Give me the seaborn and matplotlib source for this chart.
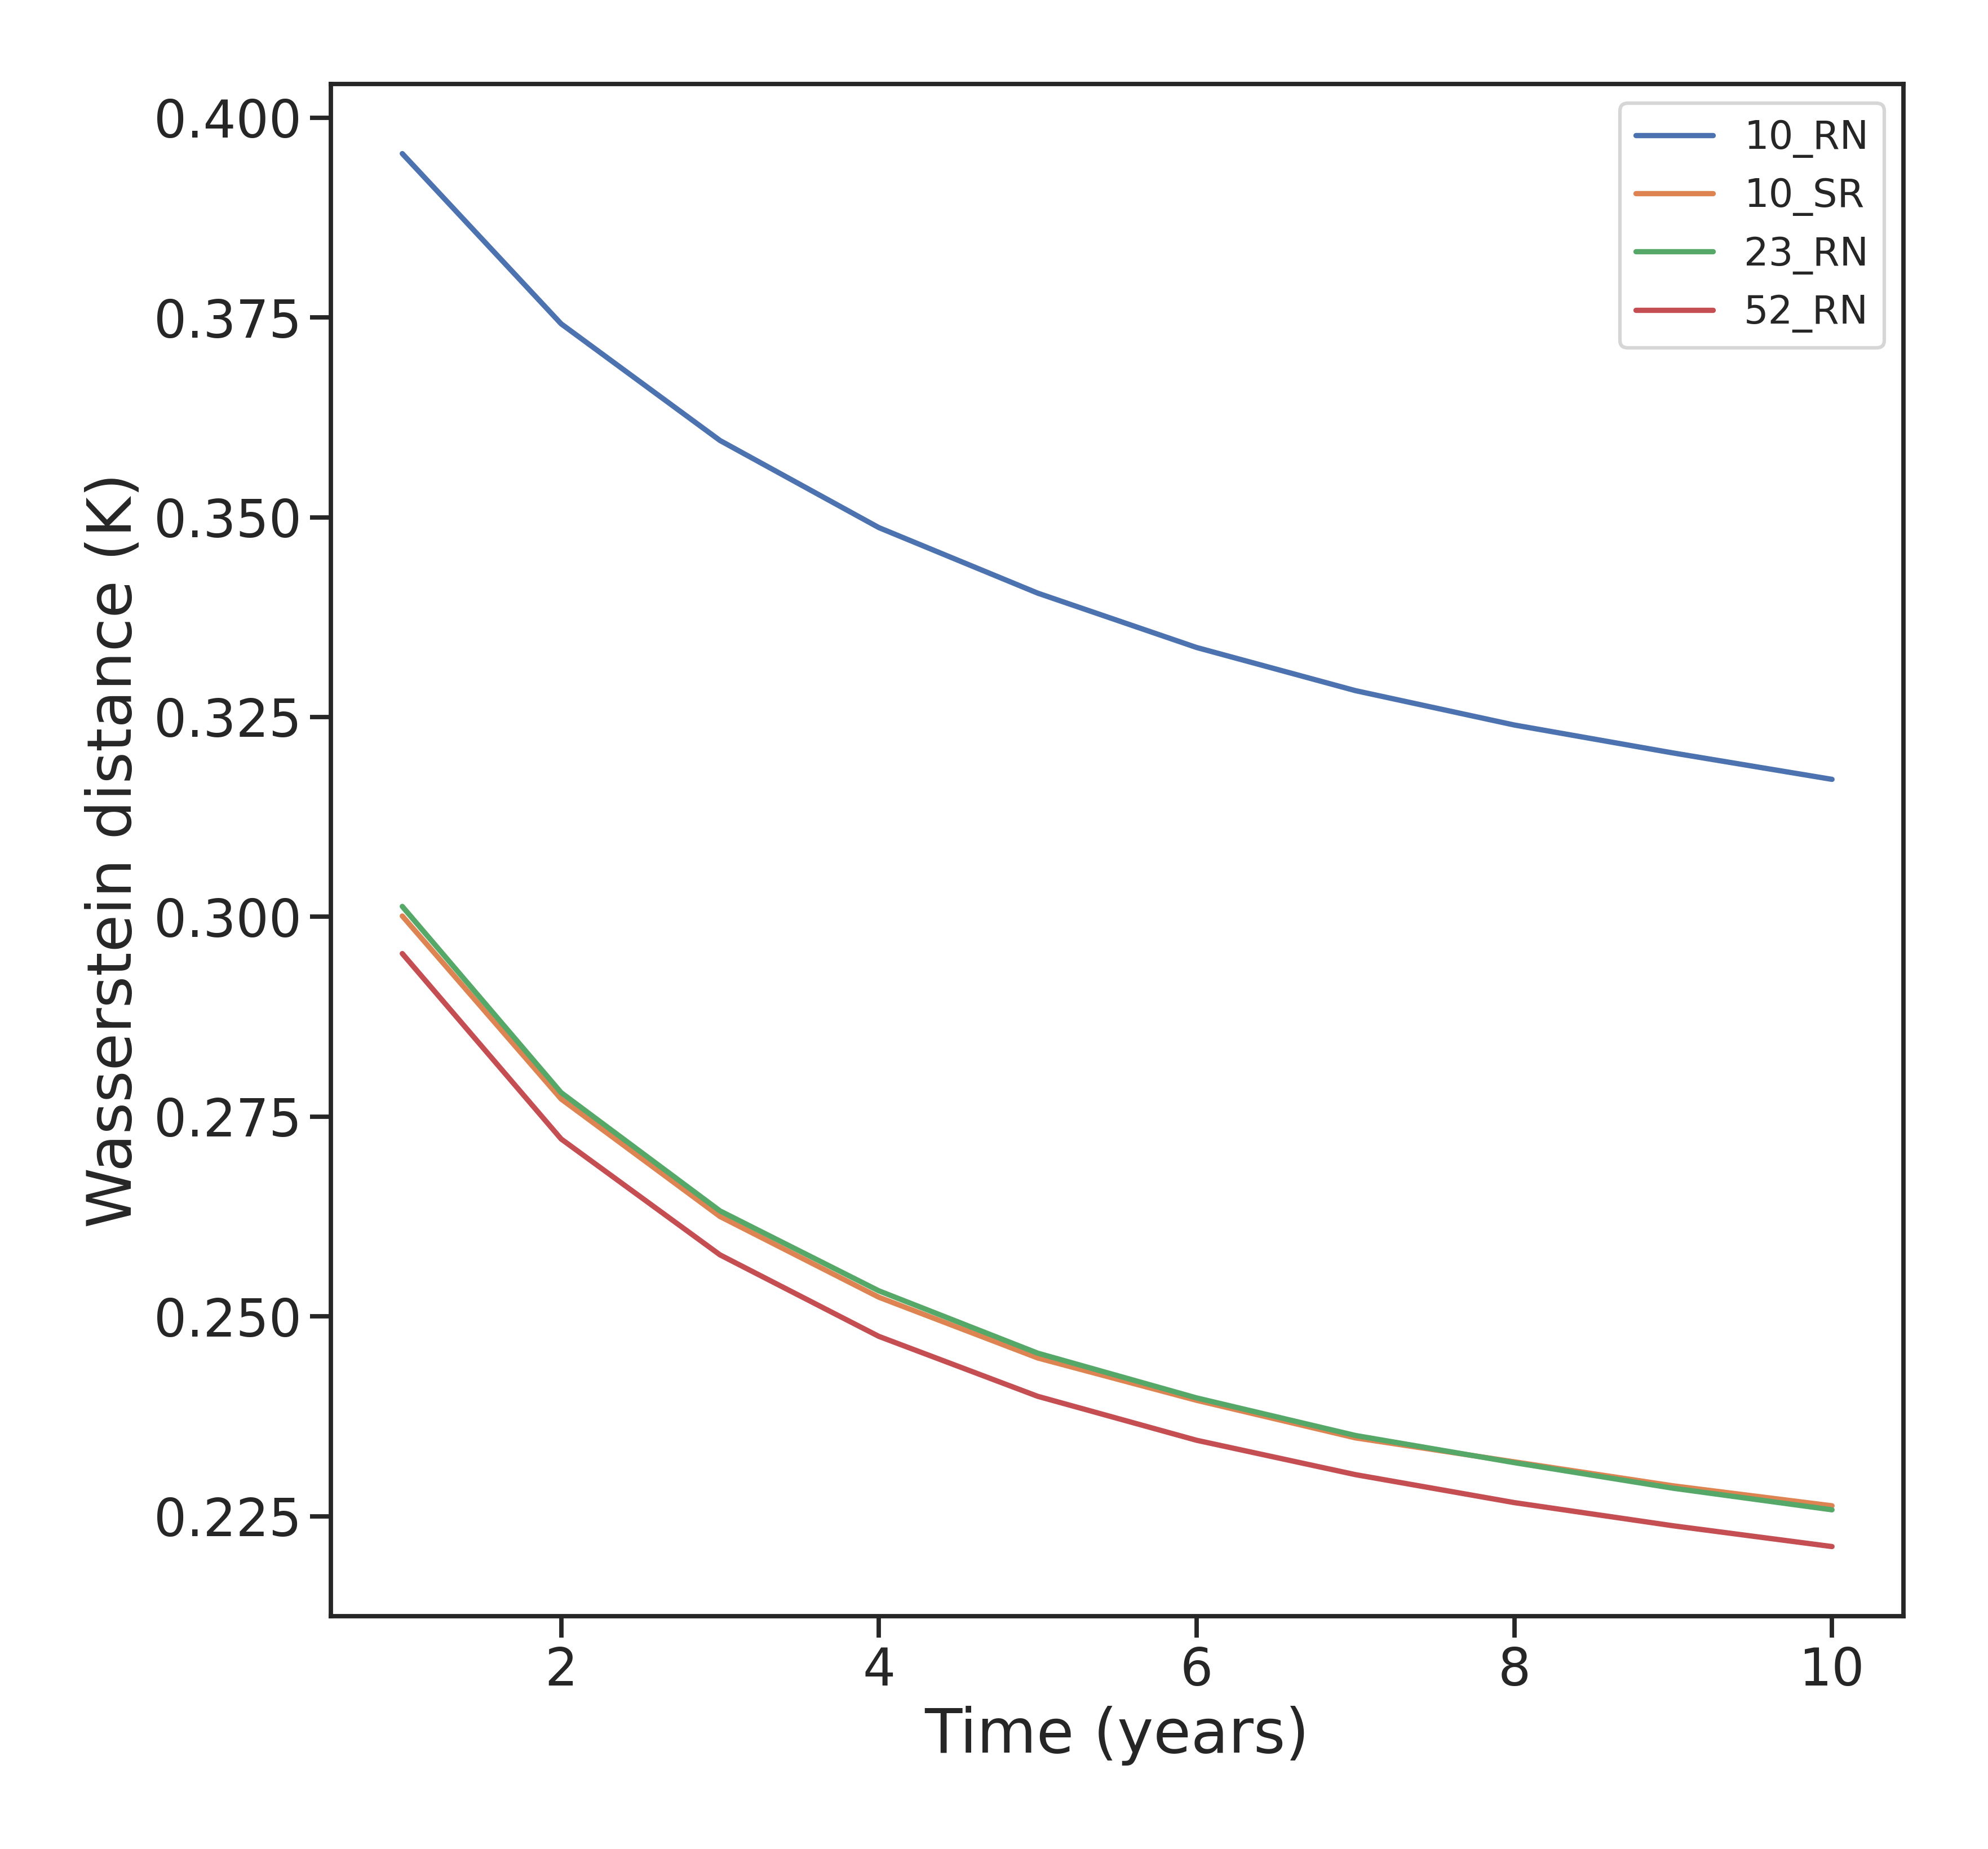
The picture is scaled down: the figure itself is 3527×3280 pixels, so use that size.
import numpy as np
import pandas as pd
import matplotlib
matplotlib.use("Agg")
import matplotlib.pyplot as plt
import seaborn as sns

# Wasserstein distance per lead time
years = [1, 2, 3, 4, 5, 6, 7, 8, 9, 10]
rn_10 = [0.3955, 0.3742, 0.3596, 0.3487, 0.3405, 0.3337, 0.3283, 0.3240, 0.3205, 0.3172]
sr_10 = [0.3001, 0.2772, 0.2625, 0.2524, 0.2448, 0.2395, 0.2348, 0.2318, 0.2288, 0.2263]
rn_23 = [0.3013, 0.2780, 0.2632, 0.2532, 0.2454, 0.2398, 0.2351, 0.2317, 0.2285, 0.2258]
rn_52 = [0.2954, 0.2722, 0.2577, 0.2475, 0.2400, 0.2345, 0.2302, 0.2267, 0.2238, 0.2212]
names = ["10_RN", "10_SR", "23_RN", "52_RN"]

series = [rn_10, sr_10, rn_23, rn_52]
df = pd.concat(
    [pd.DataFrame({"year": years, "dist": vals, "model": name}) for name, vals in zip(names, series)],
    ignore_index=True,
)

sns.set_theme(style="ticks", context="talk")
plt.rcParams.update({
    "xtick.labelsize": 22,
    "ytick.labelsize": 22,
    "axes.labelsize": 26,
    "legend.fontsize": 16.5,
})

fig = plt.figure(figsize=(3527 / 300, 3280 / 300), dpi=300)
ax = fig.add_axes([0.1664, 0.1259, 0.9575 - 0.1664, 0.9546 - 0.1259])

sns.lineplot(data=df, x="year", y="dist", hue="model", palette="deep", ax=ax)

ax.set_xlabel("Time (years)")
ax.set_ylabel("Wasserstein distance (K)")
ax.legend(loc="upper right")

fig.savefig("out.png", dpi=300)
